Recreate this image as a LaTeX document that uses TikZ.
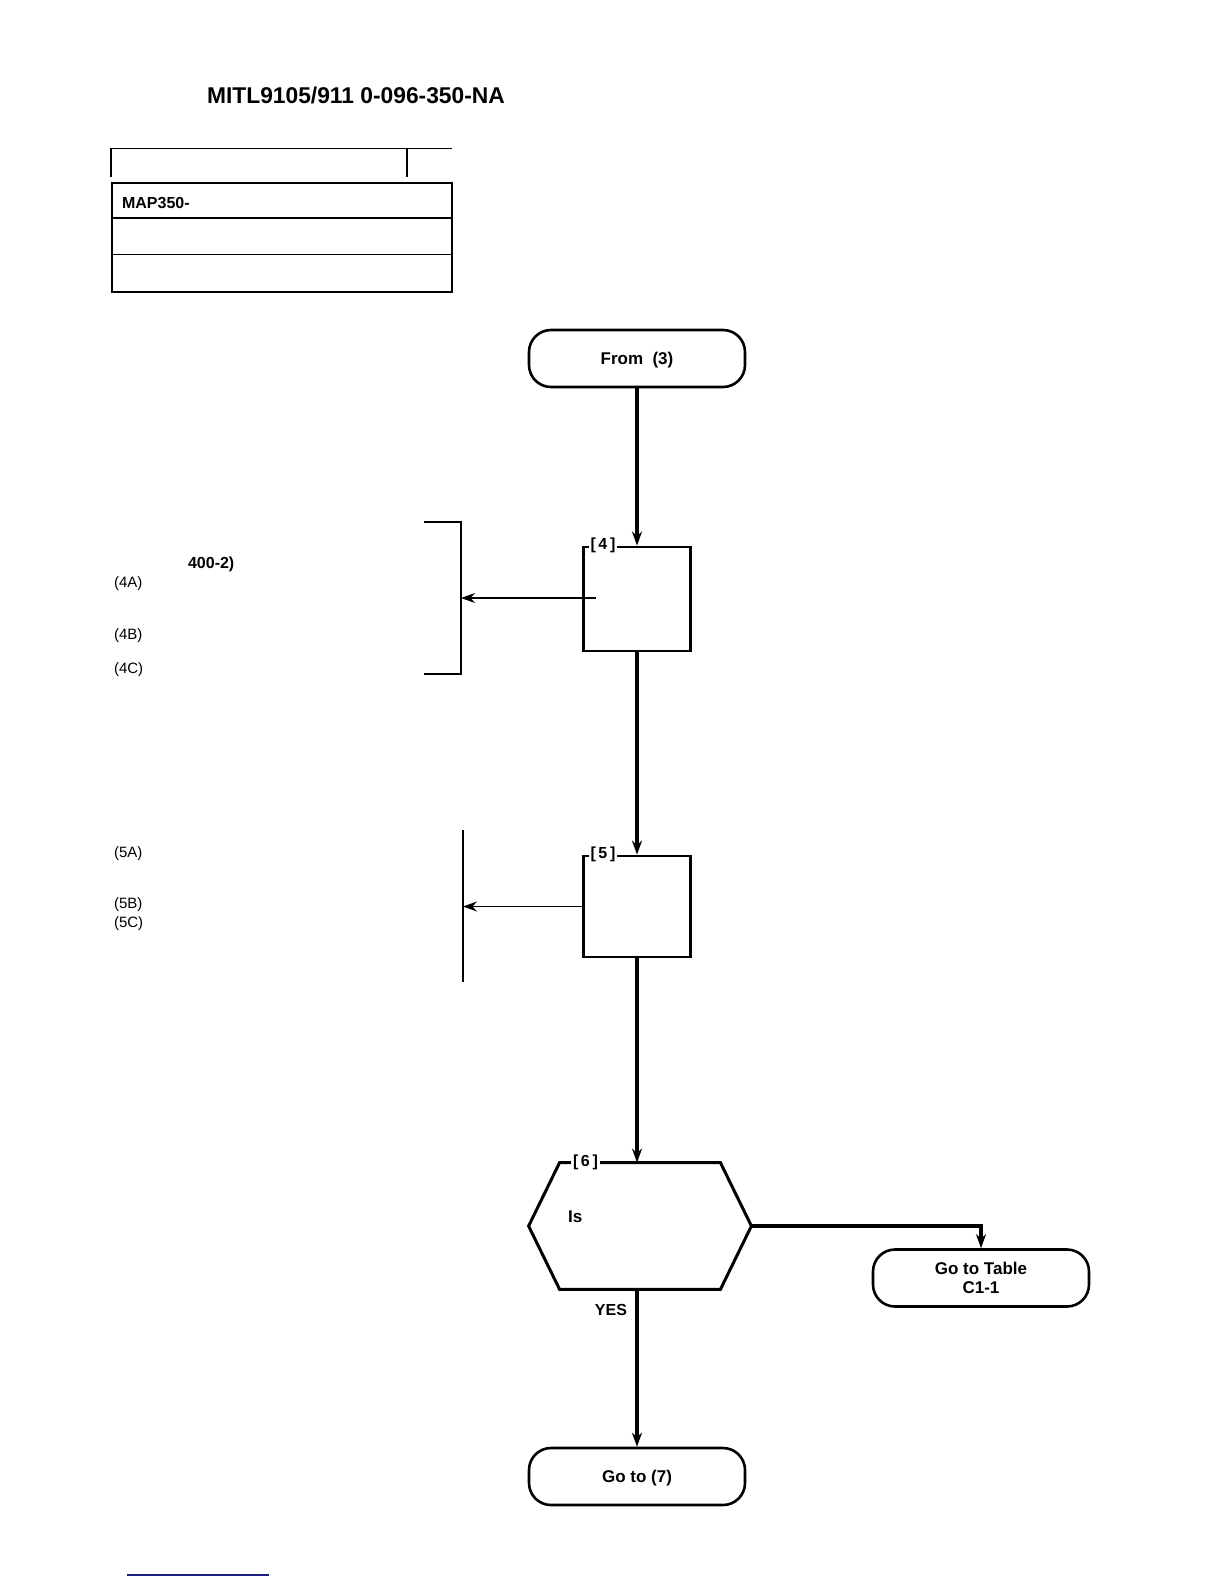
\documentclass[tikz,border=0pt]{standalone}
\usepackage{fontspec}
\setmainfont{Liberation Sans}
\usepackage{xcolor}
\usetikzlibrary{arrows.meta,positioning,calc}
\definecolor{navyline}{RGB}{30,30,125}

\begin{document}
\begin{tikzpicture}[x=0.5pt, y=-0.5pt,
  term/.style={draw, rectangle, rounded corners=11pt, line width=1.3pt,
               minimum width=108pt, minimum height=28.5pt, text depth=0pt,
               align=center, font=\bfseries\fontsize{8.5}{9.5}\selectfont},
  stepbox/.style={draw, rectangle, line width=1.4pt,
                  minimum width=53.5pt, minimum height=52pt},
  decis/.style={rectangle, minimum width=111pt, minimum height=63pt},
  tag/.style={fill=white, inner sep=1pt, anchor=west,
              font=\bfseries\fontsize{8}{9}\selectfont},
  side/.style={anchor=west, font=\fontsize{7.5}{9}\selectfont},
  flow/.style={draw, line width=1.7pt, -{Stealth[length=7pt,width=5pt]}},
  link/.style={draw, line width=0.7pt, -{Stealth[length=7pt,width=5pt]}},
  rule/.style={draw, line width=0.9pt}
]
\useasboundingbox (0,0) rectangle (1224,1584);

% Header
\node[anchor=west, font=\bfseries\fontsize{11.4}{13}\selectfont] (hdr) at (200,95)
  {MITL9105/911 0-096-350-NA};

% Form at top left
\draw[line width=0.6pt] (111,148.5) -- (452,148.5);
\draw[line width=1pt] (111,148) -- (111,177) (407,148) -- (407,177);
\draw[line width=0.9pt] (112,183) rectangle (452,292);
\draw[line width=0.6pt] (112,218) -- (452,218) (112,254.5) -- (452,254.5);
\node[anchor=west, font=\bfseries\fontsize{8}{9}\selectfont] (map) at (115,203) {MAP350-};

% Flow chart
\node[term] (from3) at (637,358.5) {From\ \ (3)};
\node[stepbox] (box4) at (637,599) {};
\node[stepbox, minimum height=50.5pt] (box5) at (637,906.5) {};
\node[decis] (dec6) at (640,1226) {};
\draw[line width=1.5pt] ($(dec6.north west)+(31,0)$) -- ($(dec6.north east)+(-31,0)$)
  -- (dec6.east) -- ($(dec6.south east)+(-31,0)$) -- ($(dec6.south west)+(31,0)$)
  -- (dec6.west) -- cycle;
\node[term] (gotab) at (981,1278) {Go to Table\\C1-1};
\node[term] (goto7) at (637,1476.5) {Go to\ (7)};

% Step tags
\node[tag] (tag4) at ($(box4.north west)+(6,0)$) {[\,4\,]};
\node[tag] (tag5) at ($(box5.north west)+(6,0)$) {[\,5\,]};
\node[tag] (tag6) at ($(dec6.north west)+(42,0)$) {[\,6\,]};
\node[anchor=west, font=\bfseries\fontsize{8.5}{9.5}\selectfont] (is6) at (561,1217) {Is};
\node[font=\bfseries\fontsize{8}{9}\selectfont] (yes6) at (611,1310) {YES};

% Connections
\draw[flow] (from3) -- (box4);
\draw[flow] (box4) -- (box5);
\draw[flow] (box5) -- (box5 |- dec6.north);
\draw[flow] (dec6.east) -| (gotab.north);
\draw[flow] (box5 |- dec6.south) -- (goto7);

% Side notes
\draw[rule] (424,522) -- (461,522) -- (461,674) -- (424,674);
\draw[rule, line width=0.7pt] (463,830) -- (463,982);
\coordinate (br4) at (461,598);
\coordinate (in4) at (596,598);
\coordinate (br5) at (463,906.5);
\draw[link] (in4) -- (br4);
\draw[link] (box5.west) -- (br5);

\node[side, font=\bfseries\fontsize{8}{9}\selectfont] (ref4) at (181,564) {400-2)};
\foreach \lbl/\yy in {4A/584,4B/636,4C/670,5A/854,5B/905,5C/924}
  \node[side] (s\lbl) at (107,\yy) {(\lbl)};

% Bottom rule
\draw[navyline, line width=0.8pt] (127,1575) -- (269,1575);

\end{tikzpicture}
\end{document}
